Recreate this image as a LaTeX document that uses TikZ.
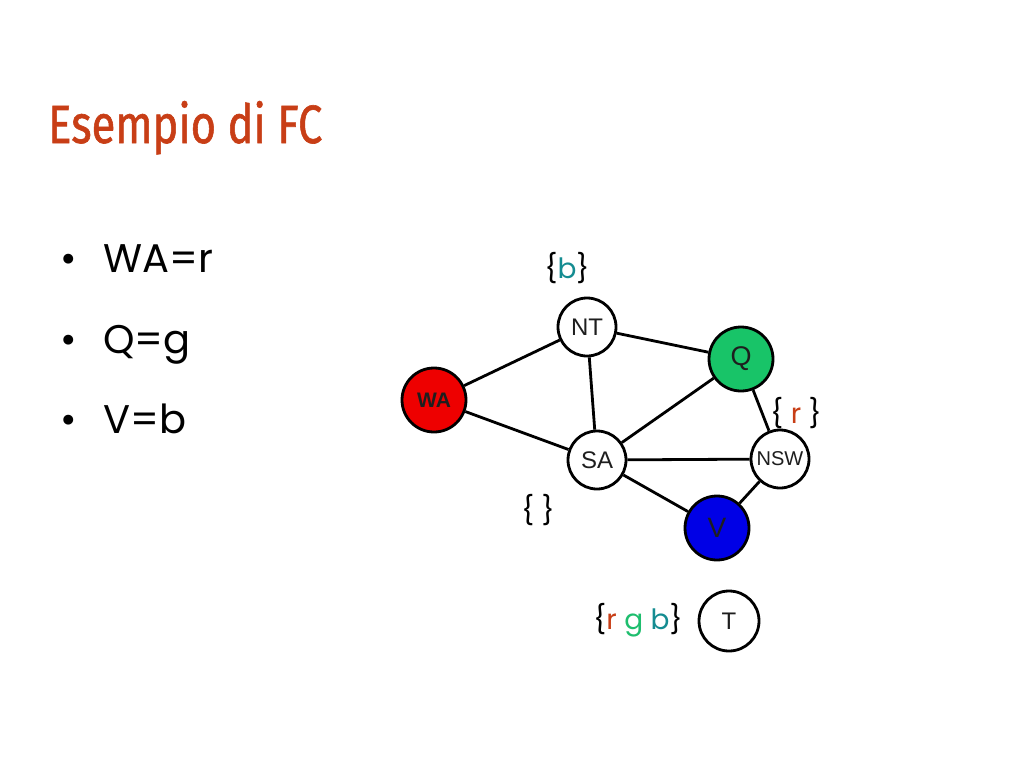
\documentclass[tikz,border=0pt]{standalone}
\usepackage{fontspec}
\setmainfont{Poppins}
\newfontfamily\arialf{Liberation Sans}
\newfontfamily\titlef[FakeBold=1.2]{Fira Sans}
\usepackage{graphicx}
\definecolor{rust}{RGB}{200,62,22}
\definecolor{gcol}{RGB}{30,190,110}
\definecolor{bcol}{RGB}{20,140,145}
\definecolor{wared}{RGB}{238,0,0}
\definecolor{qgreen}{RGB}{24,196,104}
\definecolor{vblue}{RGB}{0,0,230}
\definecolor{ink}{RGB}{30,30,30}
\tikzset{
  st/.style={circle,draw=black,line width=2.8pt,inner sep=0pt,fill=white,text=ink,font=\arialf\fontsize{24}{24}\selectfont},
  edge/.style={line width=2.8pt,draw=black},
  bul/.style={anchor=base west,inner sep=0pt,font=\fontsize{40}{40}\selectfont},
  lab/.style={inner sep=0pt,font=\fontsize{28}{28}\selectfont}
}
\begin{document}
\begin{tikzpicture}[x=1pt,y=-1pt]
\useasboundingbox[fill=white] (0,0) rectangle (1024,768);
% title
\node[anchor=base west,inner sep=0pt,text=rust] (title) at (48,143)
  {\resizebox{274pt}{42pt}{\titlef Esempio di FC}};
% bullets
\node[bul] (b1) at (60,272) {\textbullet};
\node[bul] (t1) at (103,272) {WA=r};
\node[bul] (b2) at (60,353) {\textbullet};
\node[bul] (t2) at (103,353) {Q=g};
\node[bul] (b3) at (60,433) {\textbullet};
\node[bul] (t3) at (103,433) {V=b};
% nodes
\node[st,minimum size=58pt] (NT) at (587,327) {NT};
\node[st,minimum size=64pt,fill=qgreen,font=\arialf\fontsize{27}{27}\selectfont] (Q) at (741,359) {Q};
\node[st,minimum size=64pt,fill=wared,font=\arialf\bfseries\fontsize{21}{21}\selectfont] (WA) at (434,400) {WA};
\node[st,minimum size=58pt] (SA) at (597,460) {SA};
\node[st,minimum size=58pt,font=\arialf\fontsize{20}{20}\selectfont] (NSW) at (780,459) {NSW};
\node[st,minimum size=64pt,fill=vblue,font=\arialf\fontsize{28}{28}\selectfont] (V) at (717,528) {V};
\node[st,minimum size=60pt] (T) at (729,621) {T};
% edges
\draw[edge] (WA) -- (NT);
\draw[edge] (WA) -- (SA);
\draw[edge] (NT) -- (SA);
\draw[edge] (NT) -- (Q);
\draw[edge] (SA) -- (Q);
\draw[edge] (SA) -- (NSW);
\draw[edge] (SA) -- (V);
\draw[edge] (Q) -- (NSW);
\draw[edge] (NSW) -- (V);
% domain labels
\node[lab] (dNT) at (567,268) {\{\textcolor{bcol}{b}\}};
\node[lab] (dNSW) at (796,413) {\{ \textcolor{rust}{r} \}};
\node[lab] (dSA) at (538,510) {\{ \}};
\node[lab] (dT) at (638,620) {\{\textcolor{rust}{r} \textcolor{gcol}{g} \textcolor{bcol}{b}\}};
\end{tikzpicture}
\end{document}
